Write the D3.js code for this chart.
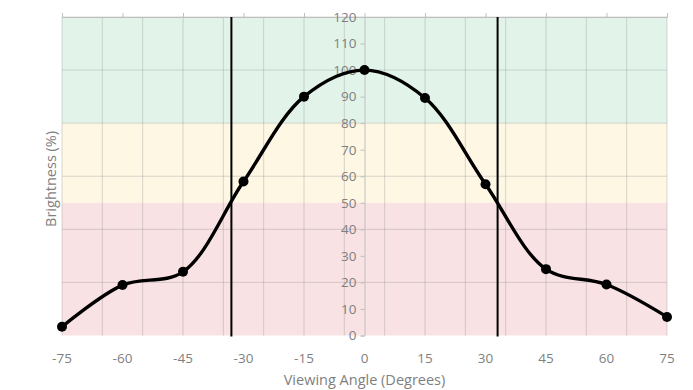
<!DOCTYPE html>
<html>
<head>
<meta charset="utf-8">
<script src="https://cdn.jsdelivr.net/npm/d3@7"></script>
<style>
	body { margin: 0; background: #fff; }
	text { font-family: 'Open Sans', sans-serif; fill: #7f7f7f; }
</style>
</head>
<body>
<div id="chart"></div>
<script>
const angles = [-75, -60, -45, -30, -15, 0, 15, 30, 45, 60, 75];
const brightness = [3.3, 19, 24, 58, 90, 100, 89.5, 57, 25, 19.2, 7];
const xTicks = [-75, -60, -45, -30, -15, 0, 15, 30, 45, 60, 75];
const xGrid = [-75, -65, -55, -45, -35, -25, -15, -5, 5, 15, 25, 35, 45, 55, 65, 75];
const yTicks = [0, 10, 20, 30, 40, 50, 60, 70, 80, 90, 100, 110, 120];
const yGrid = [20, 40, 60, 80, 100, 120];
const bands = [
	{ from: 80, to: 120, color: '#e2f4e9' },
	{ from: 50, to: 80, color: '#fef7e4' },
	{ from: 0, to: 50, color: '#f9e2e3' },
];
const cutoffs = [-33, 33];

const width = 693;
const height = 390;
const margin = { top: 17, right: 26, bottom: 54.5, left: 62 };

const svg = d3.select('#chart').append('svg')
	.attr('width', width)
	.attr('height', height);

const x = d3.scaleLinear()
	.domain([-75, 75])
	.range([margin.left, width - margin.right]);
const y = d3.scaleLinear()
	.domain([0, 120])
	.range([height - margin.bottom, margin.top]);

// coloured bands
svg.append('g').selectAll('rect')
	.data(bands)
	.enter()
	.append('rect')
	.attr('x', x(-75))
	.attr('width', x(75) - x(-75))
	.attr('y', d => y(d.to))
	.attr('height', d => y(d.from) - y(d.to))
	.style('fill', d => d.color);

// gridlines
const grid = svg.append('g')
	.style('stroke', 'rgba(140,140,140,0.32)')
	.style('stroke-width', 1);
grid.selectAll('.vg')
	.data(xGrid)
	.enter()
	.append('line')
	.attr('x1', d => x(d)).attr('x2', d => x(d))
	.attr('y1', y(0)).attr('y2', y(120));
grid.selectAll('.hg')
	.data(yGrid)
	.enter()
	.append('line')
	.attr('x1', x(-75)).attr('x2', x(75))
	.attr('y1', d => y(d)).attr('y2', d => y(d));

// top axis line with ticks pointing up
const topAxis = svg.append('g')
	.attr('transform', `translate(0, ${y(120)})`)
	.call(d3.axisTop(x).tickValues(xTicks).tickSize(4).tickFormat(''));
topAxis.selectAll('path, line').style('stroke', '#bfbfbf');

// bottom labels only
svg.append('g').selectAll('text')
	.data(xTicks)
	.enter()
	.append('text')
	.attr('x', d => x(d))
	.attr('y', 363)
	.attr('text-anchor', 'middle')
	.style('font-size', '13.5px')
	.text(d => d);

// y axis at x = 0
const yAxis = svg.append('g')
	.attr('transform', `translate(${x(0)}, 0)`)
	.call(d3.axisLeft(y).tickValues(yTicks).tickSize(4).tickPadding(4));
yAxis.selectAll('path, line').style('stroke', '#bfbfbf');
yAxis.selectAll('text')
	.style('font-size', '13.5px')
	.style('fill', '#7f7f7f');

// cutoff lines
svg.append('g').selectAll('line')
	.data(cutoffs)
	.enter()
	.append('line')
	.attr('x1', d => x(d)).attr('x2', d => x(d))
	.attr('y1', y(0) + 1).attr('y2', y(120))
	.style('stroke', '#000')
	.style('stroke-width', 2);

// data line
const points = angles.map((a, i) => [a, brightness[i]]);
const line = d3.line()
	.x(d => x(d[0]))
	.y(d => y(d[1]))
	.curve(d3.curveCatmullRom.alpha(0.5));

svg.append('path')
	.datum(points)
	.attr('d', line)
	.style('fill', 'none')
	.style('stroke', '#000')
	.style('stroke-width', 3.4);

svg.append('g').selectAll('circle')
	.data(points)
	.enter()
	.append('circle')
	.attr('cx', d => x(d[0]))
	.attr('cy', d => y(d[1]))
	.attr('r', 5)
	.style('fill', '#000');

// axis titles
svg.append('text')
	.attr('x', x(0))
	.attr('y', 385)
	.attr('text-anchor', 'middle')
	.style('font-size', '14.5px')
	.text('Viewing Angle (Degrees)');

svg.append('text')
	.attr('transform', `translate(56, ${y(59)}) rotate(-90)`)
	.attr('text-anchor', 'middle')
	.style('font-size', '14.5px')
	.text('Brightness (%)');
</script>
</body>
</html>
